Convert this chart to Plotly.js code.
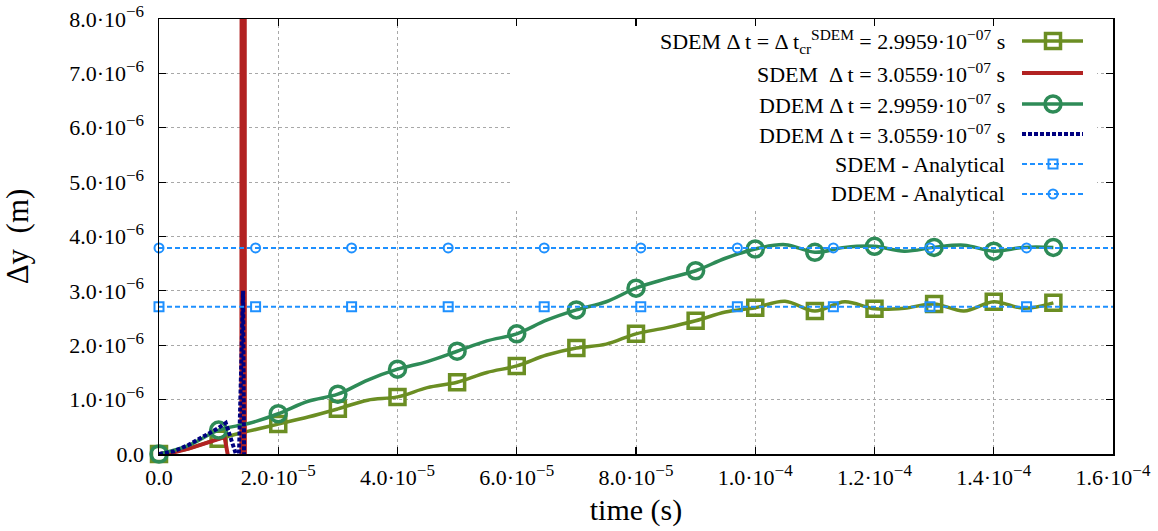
<!DOCTYPE html>
<html>
<head>
<meta charset="utf-8">
<script src="https://cdn.plot.ly/plotly-3.0.1.min.js"></script>
<style>
  html, body { margin: 0; padding: 0; background: #ffffff; }
  #chart { width: 1158px; height: 531px; }
</style>
</head>
<body>
<div id="chart"></div>
<script>
// Time samples (s) for the stable runs, every 5e-6 s
const timeStable = [0, 0.5e-5, 1.0e-5, 1.5e-5, 2.0e-5, 2.5e-5, 3.0e-5, 3.5e-5, 4.0e-5, 4.5e-5,
                    5.0e-5, 5.5e-5, 6.0e-5, 6.5e-5, 7.0e-5, 7.5e-5, 8.0e-5, 8.5e-5, 9.0e-5, 9.5e-5,
                    1.0e-4, 1.05e-4, 1.1e-4, 1.15e-4, 1.2e-4, 1.25e-4, 1.3e-4, 1.35e-4, 1.4e-4, 1.45e-4, 1.5e-4];

// SDEM, critical time step (m)
const sdemCritical = [0, 0.10e-6, 0.28e-6, 0.42e-6, 0.55e-6, 0.68e-6, 0.83e-6, 0.99e-6, 1.05e-6, 1.22e-6,
                      1.32e-6, 1.50e-6, 1.62e-6, 1.82e-6, 1.95e-6, 2.02e-6, 2.21e-6, 2.32e-6, 2.45e-6, 2.61e-6,
                      2.69e-6, 2.81e-6, 2.63e-6, 2.80e-6, 2.67e-6, 2.68e-6, 2.76e-6, 2.63e-6, 2.80e-6, 2.68e-6, 2.78e-6];

// DDEM, critical time step (m)
const ddemCritical = [0, 0.16e-6, 0.44e-6, 0.56e-6, 0.74e-6, 0.97e-6, 1.10e-6, 1.36e-6, 1.56e-6, 1.70e-6,
                      1.89e-6, 2.08e-6, 2.21e-6, 2.46e-6, 2.65e-6, 2.80e-6, 3.05e-6, 3.22e-6, 3.37e-6, 3.60e-6,
                      3.77e-6, 3.85e-6, 3.71e-6, 3.80e-6, 3.82e-6, 3.73e-6, 3.80e-6, 3.84e-6, 3.73e-6, 3.80e-6, 3.80e-6];

// SDEM with the larger time step: diverges just after 1.4e-5 s
const timeSdemUnstable = [0, 0.25e-5, 0.5e-5, 0.75e-5, 1.0e-5, 1.1e-5, 1.2e-5, 1.3e-5, 1.38e-5, 1.42e-5, 1.46e-5];
const sdemUnstable = [0, 0.03e-6, 0.10e-6, 0.19e-6, 0.28e-6, 0.31e-6, -0.30e-6, -2.0e-6, -3.0e-6, 9.0e-5, -9.0e-5];

// DDEM with the larger time step
const timeDdemUnstable = [0, 0.25e-5, 0.5e-5, 0.75e-5, 1.0e-5, 1.12e-5, 1.29e-5, 1.33e-5, 1.41e-5, 1.46e-5];
const ddemUnstable = [0, 0.05e-6, 0.17e-6, 0.32e-6, 0.48e-6, 0.57e-6, 0, -0.5e-6, 3.0e-6, -6.0e-6];

// Analytical static deflections (m) and their marker positions (s)
const sdemAnalytical = 2.71e-6;
const ddemAnalytical = 3.79e-6;
const timeAnalyticalSpan = [0, 1.6e-4];
const timeAnalyticalMarks = [0, 1.62e-5, 3.23e-5, 4.85e-5, 6.46e-5, 8.08e-5, 9.70e-5, 1.131e-4, 1.293e-4, 1.455e-4];

// superscript exponent with its own size
const sup = (s, size) => `<sup><span style="font-size:${size}px">${s}</span></sup>`;

// Axis ticks
const xTickVals = [0, 2e-5, 4e-5, 6e-5, 8e-5, 1.0e-4, 1.2e-4, 1.4e-4, 1.6e-4];
const xTickMant = ['0.0', '2.0', '4.0', '6.0', '8.0', '1.0', '1.2', '1.4', '1.6'];
const xTickExp  = [null, '−5', '−5', '−5', '−5', '−4', '−4', '−4', '−4'];
const yTickVals = [0, 1e-6, 2e-6, 3e-6, 4e-6, 5e-6, 6e-6, 7e-6, 8e-6];
const yTickMant = ['0.0', '1.0', '2.0', '3.0', '4.0', '5.0', '6.0', '7.0', '8.0'];
const yTickExp  = [null, '−6', '−6', '−6', '−6', '−6', '−6', '−6', '−6'];
const tickLabel = (m, e) => e === null ? m : `${m}·10${sup(e, 17)}`;

// Key entries
const keyLabels = [
  'SDEM Δ t = Δ t<sub>cr</sub><sup>SDEM</sup> = 2.9959·10<sup>−07</sup> s',
  'SDEM &nbsp;Δ t = 3.0559·10<sup>−07</sup> s',
  'DDEM Δ t = 2.9959·10<sup>−07</sup> s',
  'DDEM Δ t = 3.0559·10<sup>−07</sup> s',
  'SDEM - Analytical',
  'DDEM - Analytical'
];

const OLIVE = '#6b8e23', SEA = '#2e8b57', RED = '#b22222', NAVY = '#000080', BLUE = '#1e90ff';
const SERIF = 'Liberation Serif, Times New Roman, serif';

// plot area in pixels, used to place the key
const PLOT = { left: 159, right: 1113, top: 19, bottom: 454 };
const px2paperX = (px) => (px - PLOT.left) / (PLOT.right - PLOT.left);
const px2paperY = (py) => (PLOT.bottom - py) / (PLOT.bottom - PLOT.top);

// every full 1e-5 s sample gets a marker
const everyOther = (arr) => arr.filter((_, i) => i % 2 === 0);

const traces = [
  { x: timeStable, y: sdemCritical, mode: 'lines', line: { color: OLIVE, width: 3.5, shape: 'spline', smoothing: 1 },
    cliponaxis: false },
  { x: everyOther(timeStable), y: everyOther(sdemCritical), mode: 'markers', cliponaxis: false,
    marker: { symbol: 'square-open', size: 15, color: OLIVE, line: { width: 3.5, color: OLIVE } } },
  { x: timeSdemUnstable, y: sdemUnstable, mode: 'lines', line: { color: RED, width: 4 } },
  { x: timeStable, y: ddemCritical, mode: 'lines', line: { color: SEA, width: 3.5, shape: 'spline', smoothing: 1 },
    cliponaxis: false },
  { x: everyOther(timeStable), y: everyOther(ddemCritical), mode: 'markers', cliponaxis: false,
    marker: { symbol: 'circle-open', size: 16, color: SEA, line: { width: 3.5, color: SEA } } },
  { x: timeDdemUnstable, y: ddemUnstable, mode: 'lines', line: { color: NAVY, width: 4, dash: '4px,2px' } },
  { x: timeAnalyticalSpan, y: timeAnalyticalSpan.map(() => sdemAnalytical), mode: 'lines',
    line: { color: BLUE, width: 2, dash: '5px,3px' }, cliponaxis: false },
  { x: timeAnalyticalMarks, y: timeAnalyticalMarks.map(() => sdemAnalytical), mode: 'markers', cliponaxis: false,
    marker: { symbol: 'square-open', size: 9, color: BLUE, line: { width: 2, color: BLUE } } },
  { x: timeAnalyticalSpan, y: timeAnalyticalSpan.map(() => ddemAnalytical), mode: 'lines',
    line: { color: BLUE, width: 2, dash: '5px,3px' }, cliponaxis: false },
  { x: timeAnalyticalMarks, y: timeAnalyticalMarks.map(() => ddemAnalytical), mode: 'markers', cliponaxis: false,
    marker: { symbol: 'circle-open', size: 9, color: BLUE, line: { width: 2, color: BLUE } } }
];

// Key layout (pixel rows / columns)
const keyRows = [41, 73, 104, 134, 164, 194];
const keyTextRight = 1007, keyLineX0 = 1022, keyLineX1 = 1083, keyMarkX = 1053;
const keyLineStyles = [
  { color: OLIVE, width: 3.5 },
  { color: RED, width: 4 },
  { color: SEA, width: 3.5 },
  { color: NAVY, width: 4, dash: '4px,2px' },
  { color: BLUE, width: 2, dash: '5px,3px' },
  { color: BLUE, width: 2, dash: '5px,3px' }
];
const keyMarkers = [
  { row: 0, symbol: 'square-open', size: 15, color: OLIVE, lw: 3.5 },
  { row: 2, symbol: 'circle-open', size: 16, color: SEA, lw: 3.5 },
  { row: 4, symbol: 'square-open', size: 9, color: BLUE, lw: 2 },
  { row: 5, symbol: 'circle-open', size: 9, color: BLUE, lw: 2 }
];
keyMarkers.forEach(m => {
  traces.push({ x: [keyMarkX], y: [keyRows[m.row]], xaxis: 'x2', yaxis: 'y2', mode: 'markers', cliponaxis: false,
    marker: { symbol: m.symbol, size: m.size, color: m.color, line: { width: m.lw, color: m.color } } });
});

// opaque key background hides the grid behind it (in data units of the main axes)
const keyBoxPx = { x0: 513, x1: 1097, y0: 208, y1: 19 };
const xData = (px) => (px - PLOT.left) / (PLOT.right - PLOT.left) * 1.6e-4;
const yData = (py) => (PLOT.bottom - py) / (PLOT.bottom - PLOT.top) * 8e-6;
const shapes = [
  { type: 'rect', xref: 'x', yref: 'y', x0: xData(keyBoxPx.x0), x1: xData(keyBoxPx.x1),
    y0: yData(keyBoxPx.y0), y1: yData(keyBoxPx.y1) - 0.02e-6,
    fillcolor: '#ffffff', line: { width: 0 }, layer: 'between' }
];
keyLineStyles.forEach((st, i) => {
  shapes.push({ type: 'line', xref: 'paper', yref: 'paper',
    x0: px2paperX(keyLineX0), x1: px2paperX(keyLineX1), y0: px2paperY(keyRows[i]), y1: px2paperY(keyRows[i]),
    line: st, layer: 'above' });
});

const annotations = keyLabels.map((txt, i) => ({
  xref: 'paper', yref: 'paper', x: px2paperX(keyTextRight), y: px2paperY(keyRows[i]), xanchor: 'right', yanchor: 'middle',
  text: txt, showarrow: false, font: { family: SERIF, size: 22, color: '#000' }
}));

const axisCommon = {
  showline: true, linecolor: '#000', linewidth: 1.5, mirror: 'ticks',
  ticks: 'inside', ticklen: 7, tickwidth: 1.2, tickcolor: '#000',
  showgrid: true, gridcolor: '#a8a8a8', gridwidth: 1, griddash: 'dot',
  zeroline: false, tickmode: 'array',
  tickfont: { family: SERIF, size: 22, color: '#000' }
};

const layout = {
  width: 1158, height: 531,
  margin: { l: 159, r: 45, t: 19, b: 77, pad: 0 },
  paper_bgcolor: '#ffffff', plot_bgcolor: '#ffffff',
  showlegend: false,
  xaxis: Object.assign({}, axisCommon, {
    range: [0, 1.6e-4], tickvals: xTickVals, ticktext: xTickMant.map((m, i) => tickLabel(m, xTickExp[i])),
    ticklabelstandoff: 3,
    title: { text: 'time (s)', font: { family: SERIF, size: 30, color: '#000' }, standoff: 10 }
  }),
  yaxis: Object.assign({}, axisCommon, {
    range: [0, 8e-6], tickvals: yTickVals, ticktext: yTickMant.map((m, i) => tickLabel(m, yTickExp[i])),
    ticklabelstandoff: 9,
    title: { text: 'Δy &nbsp;(m)', font: { family: SERIF, size: 31, color: '#000' }, standoff: 34 }
  }),
  xaxis2: { overlaying: 'x', range: [159, 1113], visible: false, fixedrange: true },
  yaxis2: { overlaying: 'y', range: [454, 19], visible: false, fixedrange: true },
  shapes: shapes,
  annotations: annotations
};

Plotly.newPlot('chart', traces, layout, { displayModeBar: false, staticPlot: true });
</script>
</body>
</html>
